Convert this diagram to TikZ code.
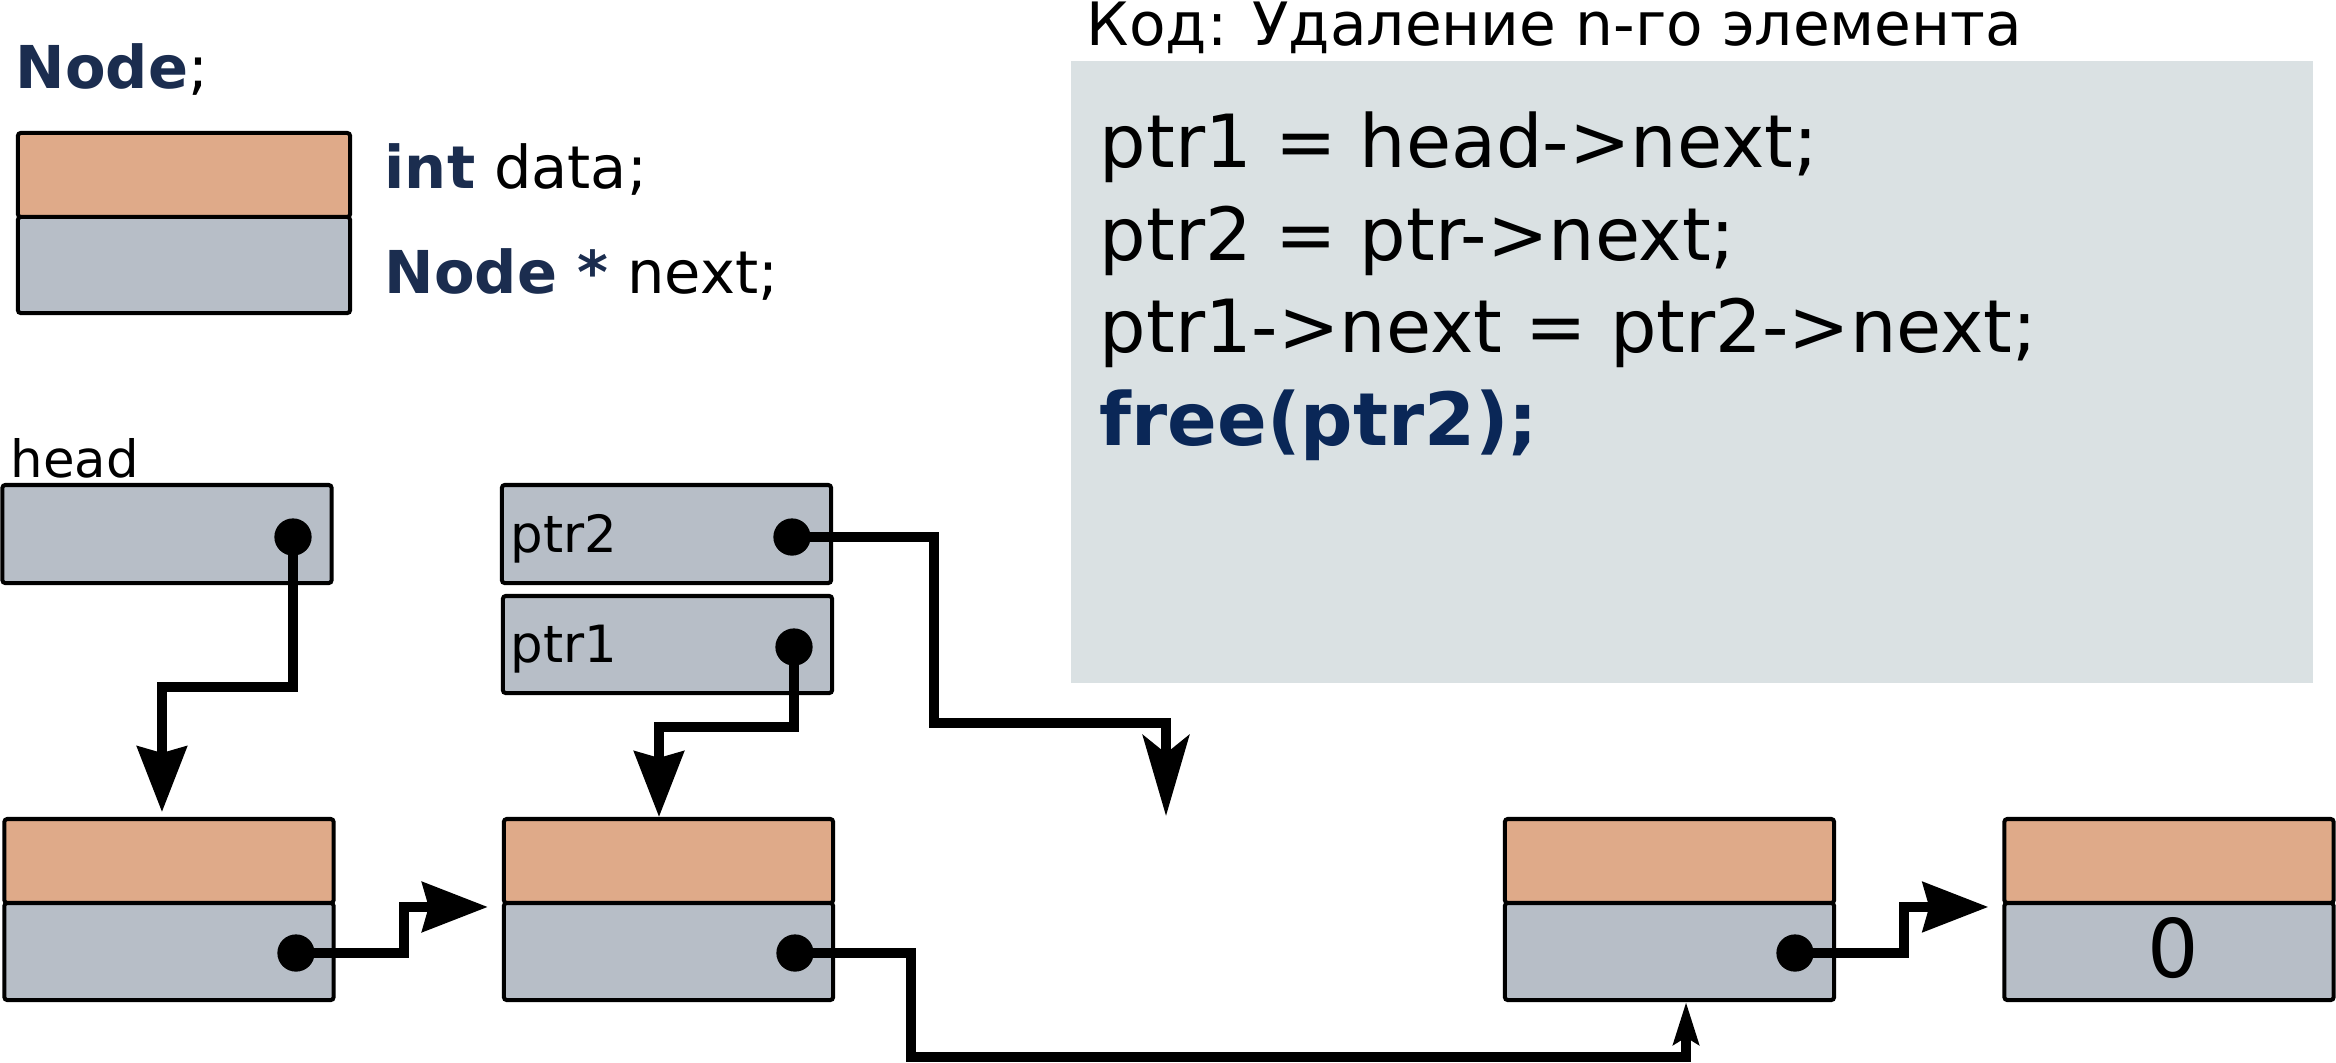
\documentclass[tikz,border=0pt]{standalone}
\usepackage{fontspec}
\setmainfont{DejaVu Sans}
\usetikzlibrary{arrows.meta,calc}
\definecolor{datacol}{RGB}{223,170,137}
\definecolor{nextcol}{RGB}{183,190,199}
\definecolor{codebg}{RGB}{218,225,227}
\definecolor{navy}{RGB}{27,45,79}
\definecolor{freecol}{RGB}{10,39,87}
\tikzset{
  datapart/.style={draw=black, fill=datacol, line width=1.14pt, rounded corners=0.8pt, minimum width=3.29cm, minimum height=0.84cm, inner sep=0pt},
  nextpart/.style={draw=black, fill=nextcol, line width=1.14pt, rounded corners=0.8pt, minimum width=3.29cm, minimum height=0.97cm, inner sep=0pt},
  dot/.style={circle, fill=black, inner sep=0pt, minimum size=10.6pt},
  conn/.style={draw=black, line width=2.8pt, line join=miter, line cap=butt},
  tipA/.style={-{Stealth[length=18.6pt, width=14pt, inset=1.8pt]}},
  tipB/.style={-{Stealth[length=23pt, width=13.2pt, inset=5.2pt]}},
  tipC/.style={-{Stealth[length=12pt, width=7.2pt, inset=2pt]}},
  lbl/.style={inner sep=0pt, anchor=base west},
}
\begin{document}
\begin{tikzpicture}[x=0.01cm, y=-0.01cm]
\useasboundingbox (0,0) rectangle (2336,1062);

% code panel
\node[fill=codebg, minimum width=12.42cm, minimum height=6.22cm, anchor=north west, inner sep=0pt] (code) at (1070,60) {};
\node[lbl, font=\fontsize{17pt}{20pt}\selectfont] (title) at (1086,45) {Код: Удаление n-го элемента};
\node[lbl, font=\fontsize{20.85pt}{25pt}\selectfont] (c1) at (1099,167) {ptr1 = head->next;};
\node[lbl, font=\fontsize{20.85pt}{25pt}\selectfont] (c2) at (1099,260) {ptr2 = ptr->next;};
\node[lbl, font=\fontsize{20.85pt}{25pt}\selectfont] (c3) at (1099,352) {ptr1->next = ptr2->next;};
\node[lbl, font=\fontsize{20.85pt}{25pt}\selectfont\bfseries, text=freecol] (c4) at (1099,445) {free(ptr2);};

% legend
\node[lbl, font=\fontsize{16.8pt}{20pt}\selectfont] (legtitle) at (15,88) {{\bfseries\color{navy}Node};};
\node[datapart, minimum width=3.32cm] (legD) at (184,175) {};
\node[nextpart, minimum width=3.32cm, minimum height=0.96cm] (legN) at (184,265) {};
\node[lbl, font=\fontsize{16.8pt}{20pt}\selectfont] (legdata) at (384,188) {{\bfseries\color{navy}int} data;};
\node[lbl, font=\fontsize{16.8pt}{20pt}\selectfont] (legnext) at (384,293) {{\bfseries\color{navy}Node *} next;};

% pointer boxes
\node[lbl, font=\fontsize{14.6pt}{18pt}\selectfont] (headlbl) at (10,477) {head};
\node[nextpart, minimum height=0.98cm] (head) at (167,534) {};
\node[nextpart, minimum height=0.98cm] (ptr2) at (666.5,534) {};
\node[lbl, font=\fontsize{14.6pt}{18pt}\selectfont] (ptr2lbl) at (510,552) {ptr2};
\node[nextpart] (ptr1) at (667.5,644.5) {};
\node[lbl, font=\fontsize{14.6pt}{18pt}\selectfont] (ptr1lbl) at (510,662) {ptr1};

% list nodes
\node[datapart] (n1d) at (169,861) {};
\node[nextpart] (n1n) at (169,951.5) {};
\node[datapart] (n2d) at (668.5,861) {};
\node[nextpart] (n2n) at (668.5,951.5) {};
\node[datapart] (n3d) at (1669.5,861) {};
\node[nextpart] (n3n) at (1669.5,951.5) {};
\node[datapart] (n4d) at (2169,861) {};
\node[nextpart] (n4n) at (2169,951.5) {};
\node[inner sep=0pt, font=\fontsize{23pt}{26pt}\selectfont] (zero) at (2173,948) {0};

% dots
\node[dot] (hdot) at (293,537) {};
\node[dot] (p2dot) at (792,537) {};
\node[dot] (p1dot) at (794,647) {};
\node[dot] (n1dot) at (296,953) {};
\node[dot] (n2dot) at (795,953) {};
\node[dot] (n3dot) at (1795,953) {};
\coordinate (freeend) at (1166,816);

% connectors
\draw[conn, tipA] (hdot.center) -- ++(0,150) -| ([xshift=-2pt,yshift=1.4pt]n1d.north);
\draw[conn, tipA] (p1dot.center) -- ++(0,80) -| ([xshift=-2.7pt]n2d.north);
\draw[conn, tipB] (p2dot.center) -- ++(142,0) -- ++(0,186) -| (freeend);
\draw[conn, tipA] (n1dot.center) -- ++(108,0) |- ([xshift=-4pt,yshift=-1.7pt]n2n.north west);
\draw[conn, tipC] (n2dot.center) -- ++(116,0) -- ++(0,104) -| ([xshift=4.7pt]n3n.south);
\draw[conn, tipA] (n3dot.center) -- ++(109,0) |- ([xshift=-4pt,yshift=-1.7pt]n4n.north west);
\end{tikzpicture}
\end{document}
